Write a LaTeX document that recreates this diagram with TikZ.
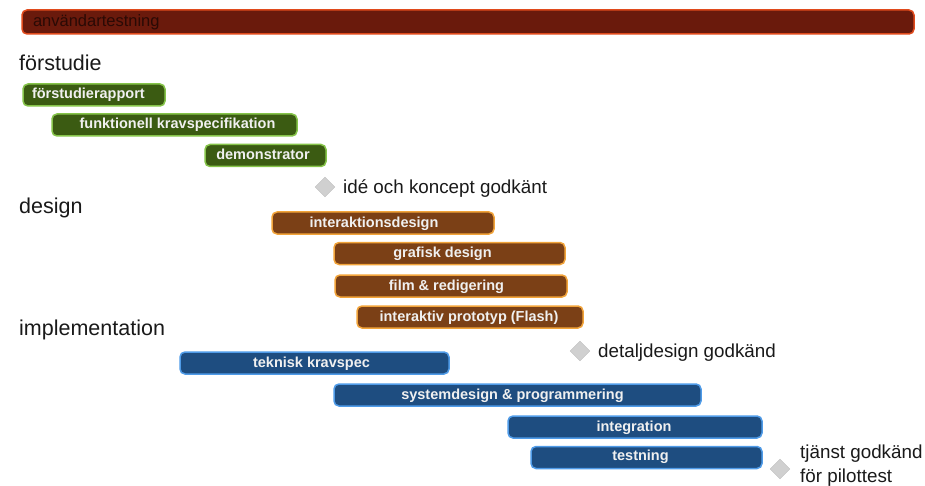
\documentclass[tikz,border=0pt]{standalone}
\usepackage{fontspec}
\setmainfont{Liberation Sans}
\usetikzlibrary{shapes.geometric}
\definecolor{topfill}{HTML}{6A1A0C}
\definecolor{topdraw}{HTML}{E04A1C}
\definecolor{greenfill}{HTML}{3B5B12}
\definecolor{greendraw}{HTML}{86C44A}
\definecolor{brownfill}{HTML}{7B4016}
\definecolor{browndraw}{HTML}{F2A43A}
\definecolor{bluefill}{HTML}{1E4D80}
\definecolor{bluedraw}{HTML}{4F9BE8}
\definecolor{msgray}{HTML}{D0D0D0}
\definecolor{toptext}{HTML}{2A0A05}
\newcommand{\sh}[2]{\hspace*{#1pt}#2}
\tikzset{
  bar/.style={rounded corners=5pt, line width=1.5pt, minimum height=22pt, inner sep=0pt,
    text height=11pt, text depth=3pt,
    text=white!94!black, font=\fontsize{14.5}{16}\selectfont\bfseries},
  topbar/.style={bar, fill=topfill, draw=topdraw, minimum height=24pt, text=toptext,
    text height=12pt, text depth=3.5pt, font=\fontsize{16.5}{18}\selectfont},
  greenbar/.style={bar, fill=greenfill, draw=greendraw},
  brownbar/.style={bar, fill=brownfill, draw=browndraw},
  bluebar/.style={bar, fill=bluefill, draw=bluedraw},
  phase/.style={anchor=west, inner sep=0pt, text=black!90, font=\fontsize{21.5}{23}\selectfont},
  milestone/.style={diamond, fill=msgray, draw=black!25, line width=0.4pt, minimum width=20pt, minimum height=20pt, inner sep=0pt},
  mstext/.style={anchor=west, inner sep=0pt, text=black!90, font=\fontsize{18.8}{24}\selectfont, align=left},
}
\begin{document}
\begin{tikzpicture}[x=1pt,y=-1pt]
\useasboundingbox (0,0) rectangle (925,486);
% top bar
\node[topbar, minimum width=892pt, text width=870pt, align=left] (anv) at (468,22) {användartestning};
% phase labels
\node[phase] (forst) at (19,62.5) {förstudie};
\node[phase] (desig) at (19,207.5) {design};
\node[phase] (impl) at (19,329.5) {implementation};
% förstudie
\node[greenbar, minimum width=142pt, text width=124pt, align=left] (frap) at (94,95) {förstudierapport};
\node[greenbar, minimum width=245pt] (fkrav) at (174.5,125) {\sh{6}{funktionell kravspecifikation}};
\node[greenbar, minimum width=121pt] (demo) at (265.5,155.5) {\sh{-5}{demonstrator}};
\node[milestone] (m1) at (325,187) {};
\node[mstext] (m1t) at (343,188.5) {idé och koncept godkänt};
% design
\node[brownbar, minimum width=222pt] (idesign) at (383,223) {\sh{-18}{interaktionsdesign}};
\node[brownbar, minimum width=231pt] (grafisk) at (449.5,253.5) {\sh{-14}{grafisk design}};
\node[brownbar, minimum width=232pt] (film) at (451,286) {\sh{-9}{film \& redigering}};
\node[brownbar, minimum width=226pt] (proto) at (470,317) {\sh{-2}{interaktiv prototyp (Flash)}};
% implementation
\node[milestone] (m2) at (580,351) {};
\node[mstext] (m2t) at (598,352.5) {detaljdesign godkänd};
\node[bluebar, minimum width=269pt] (tkrav) at (314.5,363) {\sh{-6}{teknisk kravspec}};
\node[bluebar, minimum width=367pt] (sysd) at (517.5,395) {\sh{-10}{systemdesign \& programmering}};
\node[bluebar, minimum width=254pt] (integ) at (635,427) {\sh{-2}{integration}};
\node[bluebar, minimum width=231pt, text depth=6pt] (test) at (646.5,457.5) {\sh{-12}{testning}};
\node[milestone] (m3) at (780,469) {};
\node[mstext] (m3t) at (800,466) {tjänst godkänd\\för pilottest};
\end{tikzpicture}
\end{document}
